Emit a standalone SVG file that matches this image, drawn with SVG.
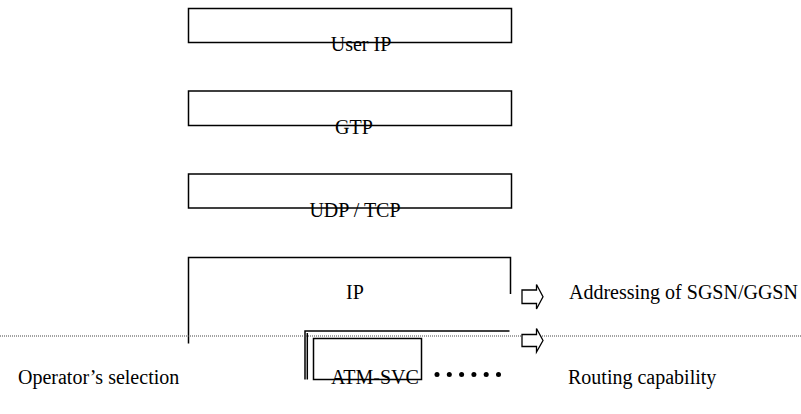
<svg xmlns="http://www.w3.org/2000/svg" width="801" height="414" viewBox="0 0 801 414">
<style>
.box{fill:none;stroke:#000;stroke-width:1.5}
.ln{fill:none;stroke:#000;stroke-width:1.5}
.t{font-family:"Liberation Serif","Times New Roman",serif;font-size:20px;fill:#000}
.c{text-anchor:middle}
.arr{fill:#fff;stroke:#000;stroke-width:1.3}
</style>
<rect width="801" height="414" fill="#fff"/>
<g id="user-ip">
<rect class="box" x="188.5" y="8.5" width="323" height="34"/>
<text class="t c" x="361" y="51">User IP</text>
</g>
<g id="gtp">
<rect class="box" x="188.5" y="91" width="323" height="34.5"/>
<text class="t c" x="354" y="134">GTP</text>
</g>
<g id="udp-tcp">
<rect class="box" x="188.5" y="174" width="323" height="34"/>
<text class="t c" x="355" y="217">UDP / TCP</text>
</g>
<g id="ip">
<path class="ln" d="M188.5,343.5 V257.5 H510.5 V294"/>
<text class="t c" x="355" y="299">IP</text>
</g>
<g id="atm-svc">
<path class="ln" d="M305,379.5 V331 H509.5"/>
<line class="ln" x1="307.3" y1="333" x2="307.3" y2="379.5"/>
<rect class="box" x="313.5" y="338.5" width="108" height="41"/>
<text class="t c" x="375" y="384">ATM-SVC</text>
<g fill="#000">
<circle cx="437" cy="374.5" r="2.5"/><circle cx="449.3" cy="374.5" r="2.5"/><circle cx="461.6" cy="374.5" r="2.5"/><circle cx="473.9" cy="374.5" r="2.5"/><circle cx="486.2" cy="374.5" r="2.5"/><circle cx="498.5" cy="374.5" r="2.5"/>
</g>
</g>
<g id="connectors">
<line x1="0" y1="336" x2="801" y2="336" stroke="#444" stroke-width="1" stroke-dasharray="1,1"/>
<path class="arr" d="M522,290 H536.5 V284.5 L543,296.8 L536.5,309 V303.5 H522 Z"/>
<path class="arr" d="M522,334.5 H536.5 V328.5 L543,340.5 L536.5,352 V346.5 H522 Z"/>
</g>
<g id="labels">
<text class="t" x="569" y="299">Addressing of SGSN/GGSN</text>
<text class="t" x="18" y="384">Operator’s selection</text>
<text class="t" x="568" y="384">Routing capability</text>
</g>
</svg>
